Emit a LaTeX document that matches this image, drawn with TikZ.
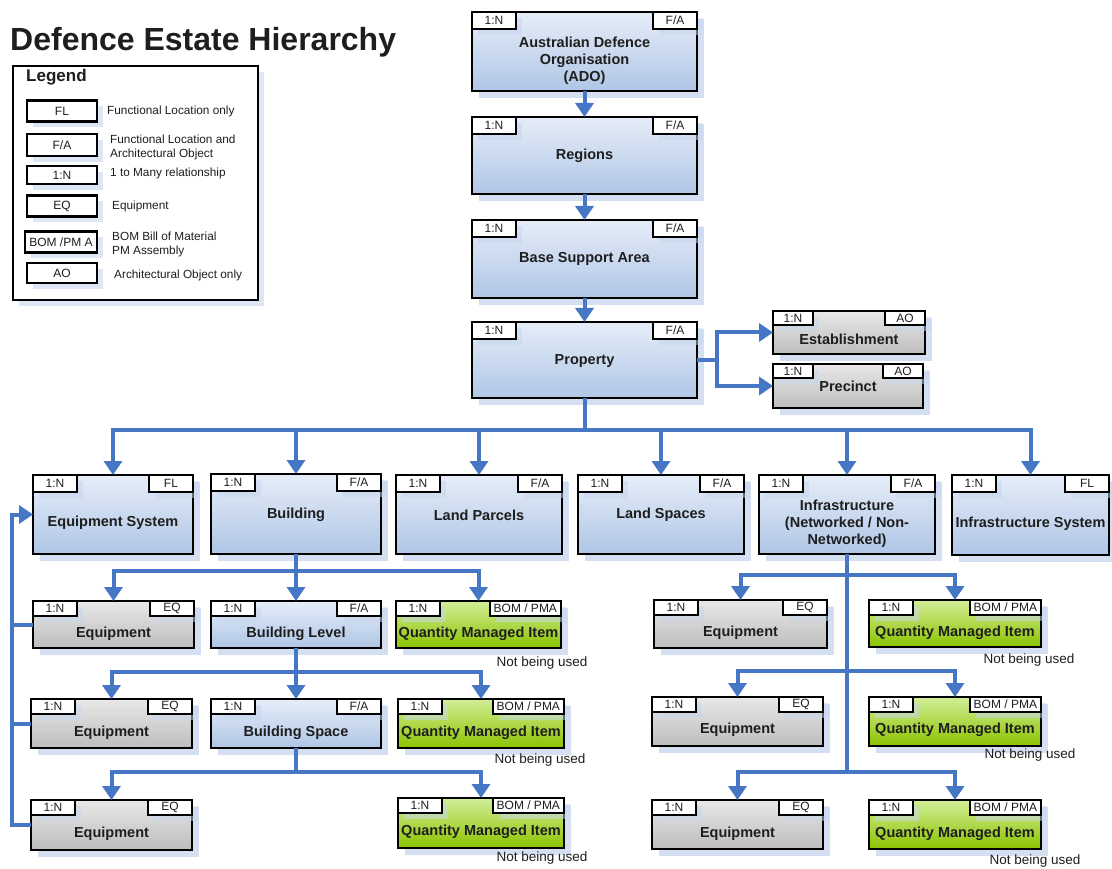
\documentclass[tikz,border=0pt]{standalone}
\usepackage{fontspec}
\setmainfont{Liberation Sans}
\usetikzlibrary{arrows.meta,shadows,fit,calc}
\definecolor{bTop}{HTML}{E6EDF8}
\definecolor{bBot}{HTML}{AFC6E6}
\definecolor{gTop}{HTML}{E8E8E8}
\definecolor{gBot}{HTML}{BDBDBD}
\definecolor{grTop}{HTML}{D2EE98}
\definecolor{grBot}{HTML}{8CC300}
\definecolor{shblue}{HTML}{C6D6EE}
\definecolor{arrc}{HTML}{4677C5}
\definecolor{txt}{HTML}{1E1E1E}
\tikzset{
  box/.style={draw=black, line width=2.5pt, inner sep=0pt, outer sep=0pt,
    drop shadow={shadow xshift=7pt, shadow yshift=-7pt, fill=shblue, opacity=0.75}},
  bluebox/.style={box, top color=bTop, bottom color=bBot},
  graybox/.style={box, top color=gTop, bottom color=gBot},
  greenbox/.style={box, top color=grTop, bottom color=grBot},
  tag/.style={draw=black, line width=2pt, fill=white, inner sep=1pt, inner xsep=4pt, outer sep=0pt,
    minimum width=44pt, minimum height=17pt, font=\fontsize{12}{13}\selectfont, text=txt,
    drop shadow={shadow xshift=6pt, shadow yshift=-6pt, fill=shblue, opacity=0.5}},
  smalltag/.style={minimum height=15pt},
  lbl/.style={font=\bfseries\fontsize{14.5}{17}\selectfont, align=center, text=txt, inner sep=0pt},
  arr/.style={draw=arrc, line width=4pt, -{Triangle[width=18pt,length=14pt]}},
  ln/.style={draw=arrc, line width=4pt},
  note/.style={font=\fontsize{13.5}{15}\selectfont, text=txt, inner sep=0pt},
  legbox/.style={draw=black, line width=2.5pt, fill=white, inner sep=0pt, outer sep=0pt,
    drop shadow={shadow xshift=6pt, shadow yshift=-6pt, fill=shblue, opacity=0.6}},
  ltag/.style={draw=black, line width=2.5pt, fill=white, inner sep=1pt, outer sep=0pt,
    minimum width=70pt, minimum height=21pt, font=\fontsize{12}{13}\selectfont, text=txt,
    drop shadow={shadow xshift=6pt, shadow yshift=-6pt, fill=shblue, opacity=0.6}},
  ltext/.style={font=\fontsize{11.8}{14}\selectfont, text=txt, anchor=west, align=left, inner sep=0pt},
}
% #1 name, #2 style, #3 p1, #4 p2, #5 left tag, #6 right tag, #7 tag style, #8 text offset from top, #9 text
\newcommand\ebox[9]{%
  \node[#2, fit={#3 #4}] (#1) {};
  \node[tag,#7,anchor=north west] (#1L) at (#1.north west) {#5};
  \node[tag,#7,anchor=north east] (#1R) at (#1.north east) {#6};
  \node[lbl] (#1T) at ([yshift=-#8pt]#1.north) {#9};
}
\begin{document}
\begin{tikzpicture}[x=1pt,y=-1pt]
\useasboundingbox (0,0) rectangle (1112,869);

% title and legend
\node[font=\bfseries\fontsize{32}{34}\selectfont, anchor=west, inner sep=0pt, text=txt] (title) at (10,42) {Defence Estate Hierarchy};
\node[legbox, fit={(13,66) (258,300)}] (legend) {};
\node[font=\bfseries\fontsize{17}{19}\selectfont, anchor=west, inner sep=0pt, text=txt] (legt) at (26,77) {Legend};
\node[ltag] (lfl) at (62,111) {FL};
\node[ltag, minimum height=22pt] (lfa) at (62,145) {F/A};
\node[ltag, minimum height=18pt] (l1n) at (62,175) {1:N};
\node[ltag] (leq) at (62,206) {EQ};
\node[ltag, minimum width=72pt] (lbom) at (61,242) {BOM /PM A};
\node[ltag, minimum height=20pt] (lao) at (62,273) {AO};
\node[ltext] (lflt) at (107,111) {Functional Location only};
\node[ltext] (lfat) at (110,147) {Functional Location and\\Architectural Object};
\node[ltext] (l1nt) at (110,173) {1 to Many relationship};
\node[ltext] (leqt) at (112,206) {Equipment};
\node[ltext] (lbomt) at (112,244) {BOM Bill of Material\\PM Assembly};
\node[ltext] (laot) at (114,275) {Architectural Object only};

% main chain
\ebox{ado}{bluebox}{(472,12)}{(697,91)}{1:N}{F/A}{}{49}{Australian Defence\\Organisation\\(ADO)}
\ebox{regions}{bluebox}{(472,117)}{(697,194)}{1:N}{F/A}{}{39}{Regions}
\ebox{bsa}{bluebox}{(472,220)}{(697,298)}{1:N}{F/A}{}{39}{Base Support Area}
\ebox{property}{bluebox}{(472,322)}{(697,398)}{1:N}{F/A}{}{39}{Property}
\ebox{estab}{graybox}{(773,311)}{(925,354)}{1:N}{AO}{smalltag, minimum height=14pt, minimum width=40pt}{28}{Establishment}
\ebox{precinct}{graybox}{(773,364)}{(923,408)}{1:N}{AO}{smalltag, minimum height=14pt, minimum width=40pt}{22}{Precinct}

% second row
\ebox{eqsys}{bluebox}{(33,475)}{(193,554)}{1:N}{FL}{}{48}{Equipment System}
\ebox{building}{bluebox}{(211,474)}{(381,554)}{1:N}{F/A}{}{41}{Building}
\ebox{lparcels}{bluebox}{(396,475)}{(562,554)}{1:N}{F/A}{}{40}{Land Parcels}
\ebox{lspaces}{bluebox}{(578,475)}{(744,554)}{1:N}{F/A}{}{40}{Land Spaces}
\ebox{infra}{bluebox}{(759,475)}{(935,554)}{1:N}{F/A}{}{49}{Infrastructure\\(Networked / Non-\\Networked)}
\ebox{infsys}{bluebox}{(952,475)}{(1109,555)}{1:N}{FL}{}{49}{Infrastructure System}

% building branch
\ebox{eqa}{graybox}{(33,601)}{(194,648)}{1:N}{EQ}{smalltag}{33}{Equipment}
\ebox{blevel}{bluebox}{(211,601)}{(381,648)}{1:N}{F/A}{smalltag}{33}{Building Level}
\ebox{qmia}{greenbox}{(396,601)}{(561,648)}{1:N}{BOM / PMA}{smalltag}{33}{Quantity Managed Item}
\ebox{eqb}{graybox}{(31,699)}{(192,748)}{1:N}{EQ}{smalltag}{34}{Equipment}
\ebox{bspace}{bluebox}{(211,699)}{(381,748)}{1:N}{F/A}{smalltag}{34}{Building Space}
\ebox{qmib}{greenbox}{(398,699)}{(564,748)}{1:N}{BOM / PMA}{smalltag}{34}{Quantity Managed Item}
\ebox{eqc}{graybox}{(31,800)}{(192,850)}{1:N}{EQ}{smalltag}{34}{Equipment}
\ebox{qmic}{greenbox}{(398,798)}{(564,848)}{1:N}{BOM / PMA}{smalltag}{34}{Quantity Managed Item}

% infrastructure branch
\ebox{eqd}{graybox}{(654,600)}{(827,648)}{1:N}{EQ}{smalltag}{33}{Equipment}
\ebox{qmid}{greenbox}{(869,600)}{(1041,647)}{1:N}{BOM / PMA}{smalltag}{33}{Quantity Managed Item}
\ebox{eqe}{graybox}{(652,697)}{(823,746)}{1:N}{EQ}{smalltag}{33}{Equipment}
\ebox{qmie}{greenbox}{(869,697)}{(1041,746)}{1:N}{BOM / PMA}{smalltag}{33}{Quantity Managed Item}
\ebox{eqf}{graybox}{(652,800)}{(823,849)}{1:N}{EQ}{smalltag}{34}{Equipment}
\ebox{qmif}{greenbox}{(869,800)}{(1041,849)}{1:N}{BOM / PMA}{smalltag}{34}{Quantity Managed Item}

% notes
\node[note] (n1) at (542,663) {Not being used};
\node[note] (n2) at (540,760) {Not being used};
\node[note] (n3) at (542,858) {Not being used};
\node[note] (n4) at (1029,660) {Not being used};
\node[note] (n5) at (1030,755) {Not being used};
\node[note] (n6) at (1035,861) {Not being used};

% connectors: main chain
\draw[arr] (ado.south) -- (regions.north);
\draw[arr] (regions.south) -- (bsa.north);
\draw[arr] (bsa.south) -- (property.north);
\draw[arr] (property.east) -- ++(20,0) |- (estab.west);
\draw[arr] (property.east) -- ++(20,0) |- (precinct.west);

% property bus
\coordinate (bus1) at ($(property.south)+(0,32)$);
\draw[ln] (property.south) -- (bus1);
\foreach \n in {eqsys,building,lparcels,lspaces,infra,infsys}
  \draw[arr] (bus1) -| (\n.north);

% building branch
\coordinate (bus2) at ($(building.south)+(0,17)$);
\draw[ln] (building.south) -- (bus2);
\foreach \n in {eqa,blevel,qmia} \draw[arr] (bus2) -| (\n.north);
\coordinate (bus3) at ($(blevel.south)+(0,24)$);
\draw[ln] (blevel.south) -- (bus3);
\foreach \n in {eqb,bspace,qmib} \draw[arr] (bus3) -| (\n.north);
\coordinate (bus4) at ($(bspace.south)+(0,24)$);
\draw[ln] (bspace.south) -- (bus4);
\foreach \n in {eqc,qmic} \draw[arr] (bus4) -| (\n.north);

% infrastructure branch
\coordinate (r1) at ($(infra.south)+(0,21)$);
\coordinate (r2) at ($(infra.south)+(0,117)$);
\coordinate (r3) at ($(infra.south)+(0,218)$);
\draw[ln] (infra.south) -- (r3);
\foreach \n in {eqd,qmid} \draw[arr] (r1) -| (\n.north);
\foreach \n in {eqe,qmie} \draw[arr] (r2) -| (\n.north);
\foreach \n in {eqf,qmif} \draw[arr] (r3) -| (\n.north);

% feedback to equipment system
\coordinate (fbx) at (12,0);
\draw[ln] (eqa.west) -- (eqa.west -| fbx);
\draw[ln] (eqb.west) -- (eqb.west -| fbx);
\draw[arr] (eqc.west) -- (eqc.west -| fbx) |- (eqsys.west);
\end{tikzpicture}
\end{document}
